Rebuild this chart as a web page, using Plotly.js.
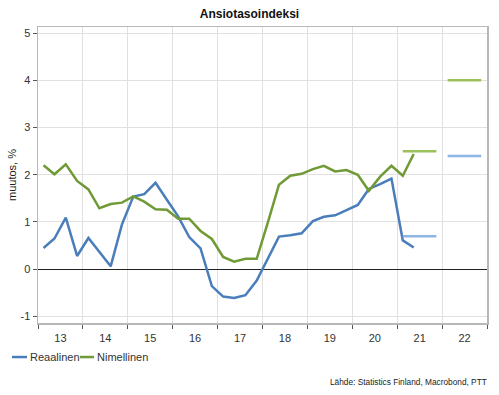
<!DOCTYPE html>
<html>
<head>
<meta charset="utf-8">
<script src="https://cdn.plot.ly/plotly-3.0.1.min.js"></script>
<style>html,body{margin:0;padding:0;background:#fff;}#chart{width:499px;height:395px;}</style>
</head>
<body>
<div id="chart"></div>
<script>
// Quarterly data, starting 2013 Q1
var startYear = 2013;
var seriesNames = ["Reaalinen", "Nimellinen"];
var realValues = [0.45,0.65,1.09,0.28,0.66,0.37,0.06,0.95,1.54,1.59,1.83,1.47,1.12,0.68,0.44,-0.36,-0.58,-0.61,-0.55,-0.24,0.25,0.69,0.72,0.76,1.02,1.11,1.14,1.25,1.36,1.70,1.80,1.92,0.61,0.46];
var nominalValues = [2.20,2.01,2.22,1.87,1.69,1.29,1.38,1.41,1.54,1.43,1.27,1.26,1.07,1.07,0.81,0.64,0.26,0.16,0.22,0.22,1.00,1.79,1.98,2.02,2.12,2.19,2.07,2.10,2.00,1.66,1.96,2.19,1.98,2.44];
// Annual forecasts
var forecastYears = [2021, 2022];
var realForecast = [0.7, 2.4];
var nominalForecast = [2.5, 4.0];
var yTickVals = [-1,0,1,2,3,4,5];

var qMid = ["-02-15","-05-15","-08-15","-11-15"];
function quarterDate(i){ return (startYear + Math.floor(i/4)) + qMid[i%4]; }
var xDates = realValues.map(function(_, i){ return quarterDate(i); });

var blue = "#4a7ebb", green = "#6f9a35", lightBlue = "#8db4e2", lightGreen = "#9cc05a";

var traces = [
  {x: xDates, y: realValues, type: "scatter", mode: "lines", name: seriesNames[0],
   line: {color: blue, width: 2.5}},
  {x: xDates, y: nominalValues, type: "scatter", mode: "lines", name: seriesNames[1],
   line: {color: green, width: 2.5}}
];
forecastYears.forEach(function(yr, k){
  traces.push({x: [yr + qMid[0], yr + qMid[3]], y: [realForecast[k], realForecast[k]],
    type: "scatter", mode: "lines", showlegend: false, hoverinfo: "skip",
    line: {color: lightBlue, width: 2.5}});
  traces.push({x: [yr + qMid[0], yr + qMid[3]], y: [nominalForecast[k], nominalForecast[k]],
    type: "scatter", mode: "lines", showlegend: false, hoverinfo: "skip",
    line: {color: lightGreen, width: 2.5}});
});

// Custom compact legend (short line samples like the reference)
var legendY = -0.115;
var legendItems = [
  {name: seriesNames[0], color: blue, x0: -0.058, x1: -0.0245, tx: -0.0225},
  {name: seriesNames[1], color: green, x0: 0.0935, x1: 0.1247, tx: 0.1275}
];
var shapes = legendItems.map(function(it){
  return {type: "line", xref: "paper", yref: "paper", x0: it.x0, x1: it.x1, y0: legendY, y1: legendY,
          line: {color: it.color, width: 2.5}};
});
var annotations = legendItems.map(function(it){
  return {text: it.name, xref: "paper", yref: "paper", x: it.tx, y: legendY, xanchor: "left", yanchor: "middle",
          showarrow: false, font: {size: 11, color: "#333"}};
});
annotations.push({text: "Lähde: Statistics Finland, Macrobond, PTT", xref: "paper", yref: "paper",
    x: 1.005, y: -0.2, xanchor: "right", yanchor: "middle", showarrow: false,
    font: {size: 8.3, color: "#222"}});

var layout = {
  width: 499, height: 395,
  margin: {l: 38, r: 12, t: 27, b: 72},
  paper_bgcolor: "#fff", plot_bgcolor: "#fff",
  font: {family: "Liberation Sans, Arial, sans-serif", size: 11, color: "#333"},
  title: {text: "<b>Ansiotasoindeksi</b>", x: 0.5, xref: "container", y: 0.965, yref: "container", yanchor: "middle",
          font: {size: 12, color: "#111", family: "Liberation Sans, Arial, sans-serif"}},
  xaxis: {
    type: "date", range: ["2013-01-01", "2023-01-01"],
    tick0: "2013-01-01", dtick: "M12", tickformat: "%y", ticklabelmode: "period",
    ticks: "outside", ticklen: 4, tickcolor: "#555", tickwidth: 1,
    showgrid: true, gridcolor: "#e0e0e0", gridwidth: 1,
    showline: true, linecolor: "#b8b8b8", linewidth: 1.5, mirror: true,
    zeroline: false, tickfont: {size: 11, color: "#333"}
  },
  yaxis: {
    range: [-1.14, 5.13], tickvals: yTickVals, ticktext: yTickVals.map(String),
    ticks: "outside", ticklen: 4, tickcolor: "#555", tickwidth: 1,
    showgrid: true, gridcolor: "#e0e0e0", gridwidth: 1,
    showline: true, linecolor: "#b8b8b8", linewidth: 1.5, mirror: true,
    zeroline: true, zerolinecolor: "#222", zerolinewidth: 1,
    title: {text: "muutos, %", standoff: 1, font: {size: 11, color: "#222"}},
    tickfont: {size: 11, color: "#333"}
  },
  showlegend: false,
  shapes: shapes,
  annotations: annotations
};
Plotly.newPlot("chart", traces, layout, {displayModeBar: false, staticPlot: true});
</script>
</body>
</html>
